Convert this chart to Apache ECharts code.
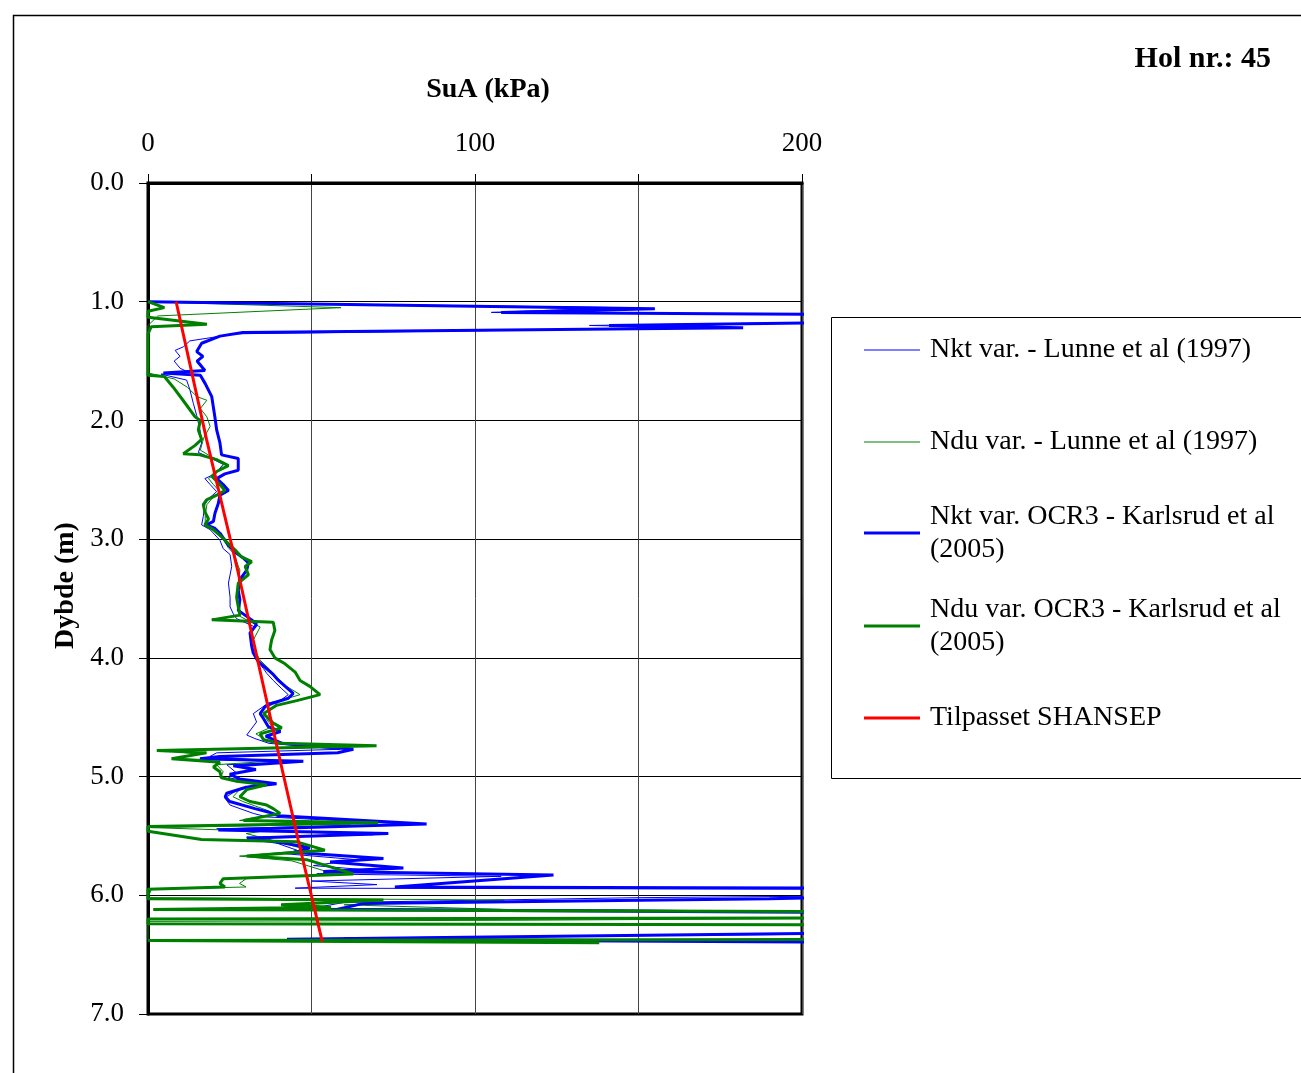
<!DOCTYPE html>
<html><head><meta charset="utf-8">
<script src="https://cdn.jsdelivr.net/npm/echarts@6/dist/echarts.min.js"></script>
<style>html,body{margin:0;padding:0;background:#fff}#c{width:1301px;height:1073px}</style>
</head><body><div id="c"></div>
<script>
// ---- data: [SuA kPa, depth m] ----
const xTicks = [0, 50, 100, 150, 200];
const yTicks = [0, 1, 2, 3, 4, 5, 6, 7];
const seriesNames = ['Nkt var. - Lunne et al (1997)', 'Ndu var. - Lunne et al (1997)', 'Nkt var. OCR3 - Karlsrud et al (2005)', 'Ndu var. OCR3 - Karlsrud et al (2005)', 'Tilpasset SHANSEP'];
const nktLunne = [[0,1.00],[145,1.05],[105,1.09],[215,1.11],[215,1.17],[135,1.20],[170,1.22],[27,1.27],[12.8,1.33],[10.8,1.38],[8.3,1.41],[9.8,1.46],[8,1.50],[9.8,1.56],[12.8,1.60],[4,1.61],[11.8,1.66],[12.8,1.74],[13.9,1.86],[14.9,1.96],[15.9,2.08],[16.4,2.19],[15.4,2.27],[17.9,2.30],[23,2.37],[20.5,2.45],[17.4,2.49],[19,2.54],[21,2.60],[18.5,2.66],[17.4,2.71],[16.9,2.81],[16.4,2.88],[19,2.92],[22,3.01],[23,3.08],[25.1,3.13],[25.6,3.23],[24.6,3.37],[25.1,3.49],[25.1,3.57],[26.1,3.63],[27.1,3.67],[32.7,3.74],[31.2,3.82],[32.2,3.94],[33.2,4.02],[35.3,4.09],[36.3,4.13],[38.3,4.19],[40.9,4.26],[42.9,4.31],[40.4,4.36],[36.8,4.38],[32.2,4.47],[33.2,4.54],[30.2,4.65],[32.7,4.68],[37,4.72],[58.7,4.77],[21,4.80],[19,4.83],[43.4,4.88],[24.1,4.90],[27.1,4.97],[24.6,5.01],[36.3,5.07],[28,5.10],[23.5,5.18],[25.1,5.24],[32.2,5.31],[36.3,5.34],[79.1,5.40],[21,5.44],[68.9,5.49],[30.2,5.51],[38.3,5.55],[45.5,5.62],[42,5.65],[63.8,5.70],[50.6,5.75],[68.9,5.79],[51.6,5.82],[108,5.84],[50,5.88],[70,5.91],[45,5.94],[240,5.95],[240,6.00],[150,6.02],[60,6.06],[50,6.11],[240,6.14],[240,6.32],[60,6.36],[240,6.39]];
const nduLunne = [[0,1.00],[59,1.05],[3,1.12],[0,1.20],[0,1.60],[8,1.65],[12,1.72],[15,1.80],[18,1.83],[16,1.90],[18,1.97],[19,2.05],[17,2.15],[16,2.25],[19,2.30],[23.5,2.36],[21,2.44],[18.5,2.49],[20,2.54],[22,2.60],[19.5,2.66],[18,2.71],[17.5,2.80],[17.5,2.88],[20,2.92],[23,3.00],[24.5,3.07],[26.5,3.13],[27.5,3.22],[28.1,3.26],[27.6,3.40],[28.1,3.54],[28.1,3.65],[34.3,3.74],[32.2,3.85],[32.7,3.94],[34.3,4.02],[37.3,4.10],[39.3,4.16],[42.4,4.24],[46.5,4.31],[40.4,4.36],[37.3,4.44],[36.3,4.52],[38,4.58],[33,4.64],[36,4.69],[40,4.72],[62,4.75],[5,4.78],[15,4.81],[9,4.85],[38,4.87],[21,4.90],[23,4.96],[22,5.01],[33,5.06],[28,5.11],[26,5.17],[29,5.21],[33,5.25],[37,5.29],[38,5.32],[28,5.37],[62,5.40],[1,5.43],[35,5.46],[30,5.48],[40,5.55],[49,5.62],[28,5.67],[44,5.71],[57,5.82],[30,5.86],[28,5.90],[30,5.93],[1,5.95],[0,6.02],[109,6.04],[60,6.08],[110,6.12],[240,6.14],[240,6.19],[115,6.21],[0,6.22],[0,6.38],[135,6.40]];
const nktOCR3 = [[0,1.00],[155,1.06],[108,1.09],[230,1.11],[230,1.17],[141,1.20],[182,1.22],[29,1.26],[22,1.29],[16.4,1.35],[14.9,1.42],[16.8,1.46],[15,1.50],[17.4,1.58],[4.7,1.60],[16,1.62],[17.5,1.69],[19.5,1.80],[20.5,1.98],[21,2.08],[22,2.19],[22.5,2.29],[27.6,2.32],[27.6,2.42],[23.5,2.45],[21,2.49],[23,2.54],[24.6,2.59],[22,2.63],[21.5,2.70],[20.5,2.78],[20,2.85],[17.9,2.88],[20.5,2.91],[22,2.95],[23,2.99],[24.6,3.05],[27.1,3.12],[29.2,3.16],[30.7,3.20],[30.2,3.26],[28.1,3.34],[27.6,3.43],[28.1,3.51],[27.6,3.60],[31.7,3.68],[33.2,3.72],[31.2,3.79],[31.7,3.90],[32.2,3.96],[33.7,4.03],[35.8,4.08],[38.3,4.14],[39.9,4.19],[42.4,4.25],[44.4,4.30],[42.9,4.34],[38.3,4.38],[35.8,4.41],[34.3,4.47],[35.3,4.51],[36.8,4.58],[40.5,4.62],[36,4.66],[41,4.72],[62.8,4.77],[58,4.80],[22,4.83],[15.9,4.85],[47.5,4.87],[26.1,4.91],[33,4.94],[25,4.98],[28,5.02],[39.3,5.06],[30,5.09],[24.1,5.14],[23.6,5.17],[25,5.21],[32.7,5.27],[37,5.30],[40,5.33],[85.2,5.40],[21.5,5.45],[73.5,5.48],[30.2,5.52],[41.4,5.56],[49.5,5.60],[45,5.64],[72,5.69],[55.7,5.72],[78.1,5.77],[53.6,5.80],[124,5.83],[75.5,5.93],[240,5.94],[240,6.00],[190,6.03],[65.6,6.07],[57.7,6.12],[240,6.15],[240,6.31],[42.5,6.37],[240,6.40]];
const nduOCR3 = [[0,1.00],[5,1.05],[0,1.08],[0,1.13],[18,1.19],[1,1.21],[0,1.27],[0,1.62],[5,1.63],[7.7,1.72],[10.7,1.83],[14.4,1.97],[16,2.00],[15.4,2.08],[16.4,2.16],[14.4,2.21],[10.8,2.28],[15.9,2.29],[21,2.33],[24.6,2.38],[21,2.43],[19.5,2.47],[22,2.54],[23.5,2.59],[21,2.63],[17.9,2.67],[16.9,2.71],[17.4,2.77],[18.5,2.83],[17.4,2.88],[20,2.92],[22.5,2.98],[24.6,3.04],[26.6,3.09],[28.6,3.15],[31.7,3.19],[29.7,3.23],[30.7,3.30],[27.6,3.37],[27.1,3.49],[27.6,3.57],[28.1,3.64],[19.5,3.68],[38.3,3.70],[38.8,3.77],[37.8,3.85],[37.3,3.93],[38.8,4.00],[41.9,4.05],[45,4.12],[46.5,4.19],[49.5,4.24],[52.6,4.31],[45.5,4.36],[39.3,4.40],[35.3,4.47],[38.3,4.55],[40.9,4.59],[34.3,4.64],[35.3,4.69],[40.4,4.72],[69.9,4.74],[2.7,4.78],[17.9,4.80],[7.2,4.85],[22,4.88],[20,4.92],[22,4.96],[22.5,5.01],[27.1,5.04],[36.3,5.07],[30.2,5.11],[28.1,5.17],[31.2,5.21],[36.3,5.24],[38.3,5.27],[40.4,5.31],[29.2,5.37],[70.4,5.39],[0,5.42],[0,5.46],[16.4,5.53],[45.5,5.55],[54.1,5.62],[30.2,5.67],[48.5,5.70],[62.8,5.82],[23,5.86],[22,5.90],[23.5,5.93],[0,5.95],[0,6.03],[72,6.04],[40.7,6.08],[56,6.10],[1.6,6.12],[240,6.14],[240,6.19],[0,6.20],[0,6.24],[240,6.25],[240,6.37],[0,6.38],[138,6.40]];
const shansep = [[8.6,1.00],[17.9,2.16],[27.4,3.26],[38.3,4.61],[45.9,5.53],[53.3,6.39]];

const FONT = "'Liberation Serif','Times New Roman',serif";
const chart = echarts.init(document.getElementById('c'), null, {renderer: 'canvas'});

const legendTops = [350, 442, 533, 626, 718];
const legendWidths = [1, 1, 3, 3, 3];
const wrapName = name => name.indexOf('Karlsrud') >= 0 ? name.replace(' (2005)', '\n(2005)') : name;
const legends = seriesNames.map((n, i) => {
  const two = wrapName(n).indexOf('\n') >= 0;
  return {
    show: true, orient: 'vertical', left: 864, top: legendTops[i] - (two ? 49.5 : 16.5),
    padding: 0, itemWidth: 56, itemHeight: legendWidths[i], icon: 'rect', selectedMode: false,
    formatter: wrapName,
    textStyle: {fontFamily: FONT, fontSize: 28, color: '#000', lineHeight: 33, padding: two ? [33, 0, 0, 5] : [0, 0, 0, 5]},
    data: [n]
  };
});

const mk = (name, data, color, width) => ({
  name, type: 'line', data, symbol: 'none', smooth: false, animation: false,
  lineStyle: {color, width}, itemStyle: {color}, clip: true
});

chart.setOption({
  backgroundColor: '#fff',
  animation: false,
  title: {text: 'Hol nr.: 45', right: 30, top: 44, padding: 0, textStyle: {fontFamily: FONT, fontSize: 30, fontWeight: 'bold', color: '#000'}},
  grid: {left: 148, top: 183, width: 654, height: 831, show: true, borderColor: '#000', borderWidth: 3, backgroundColor: 'transparent'},
  legend: legends,
  graphic: [
    {type: 'rect', left: 11, top: 13, z: -10, shape: {width: 1400, height: 1200}, style: {fill: 'none', stroke: '#000', lineWidth: 1.5}},
    {type: 'rect', left: 831, top: 317, z: -5, shape: {width: 600, height: 461}, style: {fill: '#fff', stroke: '#000', lineWidth: 1}}
  ],
  xAxis: {
    type: 'value', position: 'top', min: xTicks[0], max: xTicks[xTicks.length - 1], interval: 50,
    name: 'SuA (kPa)', nameLocation: 'middle', nameGap: 79,
    nameTextStyle: {fontFamily: FONT, fontSize: 28, fontWeight: 'bold', color: '#000', padding: [0, 0, 0, 26]},
    axisLine: {show: true, onZero: false, lineStyle: {color: '#000', width: 3}},
    axisTick: {show: true, inside: false, length: 9, lineStyle: {color: '#000', width: 1}},
    axisLabel: {margin: 26, fontFamily: FONT, fontSize: 27, color: '#000', formatter: v => (v % 100 === 0 ? String(v) : '')},
    splitLine: {show: true, lineStyle: {color: '#444', width: 1}}
  },
  yAxis: {
    type: 'value', inverse: true, min: yTicks[0], max: yTicks[yTicks.length - 1], interval: 1,
    name: 'Dybde (m)', nameLocation: 'middle', nameGap: 68, nameRotate: 90,
    nameTextStyle: {fontFamily: FONT, fontSize: 28, fontWeight: 'bold', color: '#000', padding: [0, 0, 0, 26]},
    axisLine: {show: true, onZero: false, lineStyle: {color: '#000', width: 3}},
    axisTick: {show: true, inside: false, length: 9, lineStyle: {color: '#000', width: 1}},
    axisLabel: {margin: 24, fontFamily: FONT, fontSize: 27, color: '#000', padding: [8, 0, 0, 0], formatter: v => v.toFixed(1)},
    splitLine: {show: true, lineStyle: {color: '#000', width: 1}}
  },
  series: [
    mk(seriesNames[0], nktLunne, '#0000ff', 1),
    mk(seriesNames[1], nduLunne, '#008000', 1),
    mk(seriesNames[2], nktOCR3, '#0000ff', 3),
    mk(seriesNames[3], nduOCR3, '#008000', 3),
    mk(seriesNames[4], shansep, '#ff0000', 3)
  ]
});
</script></body></html>
